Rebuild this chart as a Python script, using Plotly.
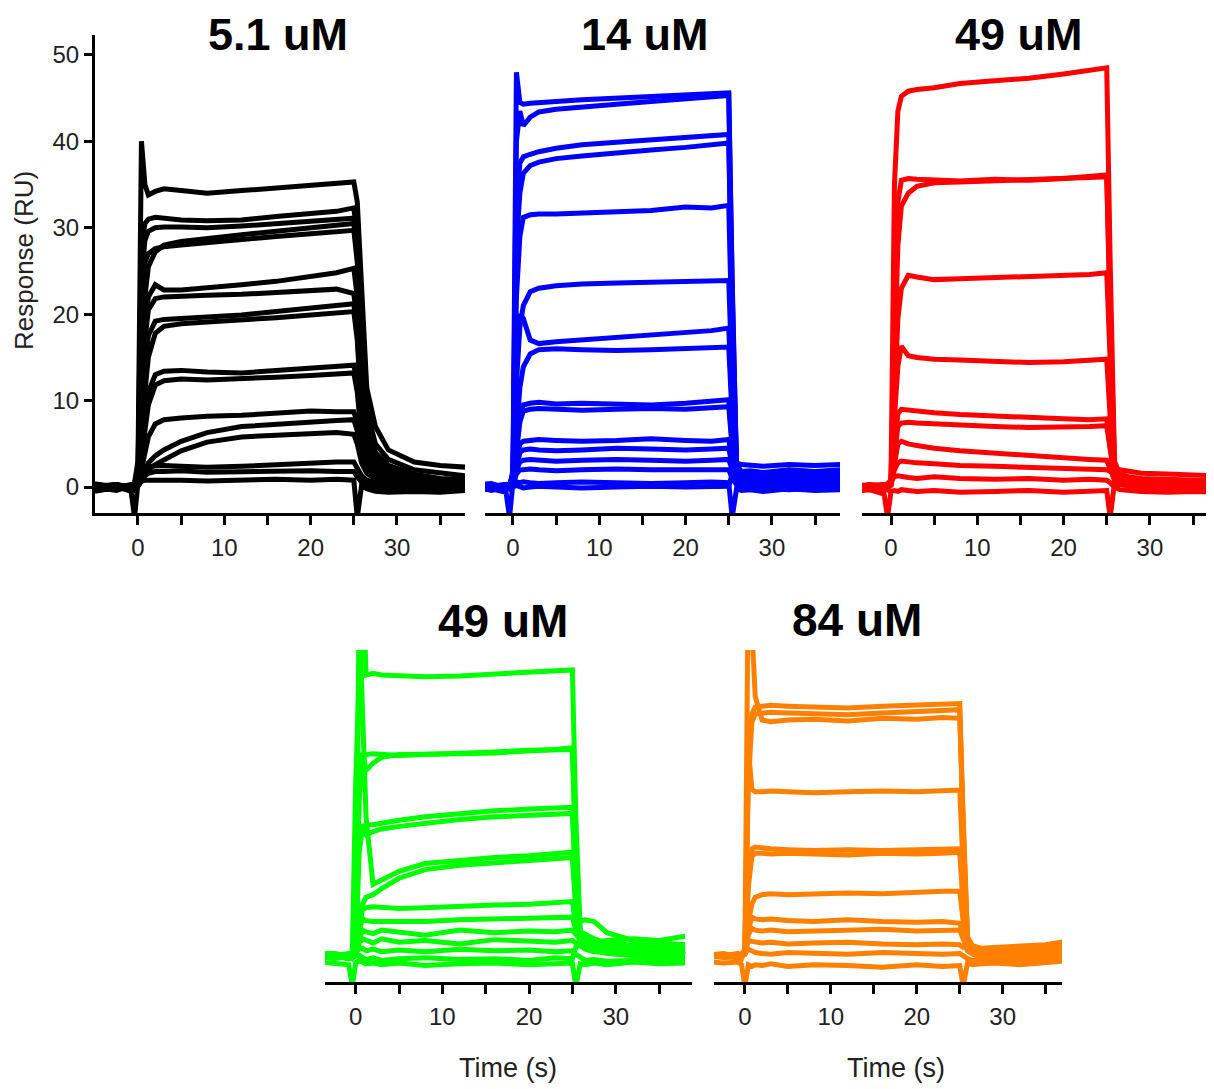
import plotly.graph_objects as go

# ---------------- data ----------------
# common time grid (s) for every sensorgram trace
TIME = [-5, -2.5, -0.8, -0.4, 0, 0.4, 0.8, 1.2, 2, 3, 5, 8, 12, 16, 20, 23, 25,
        25.4, 25.9, 26.5, 27.5, 29, 32, 35, 38]

# 5.1 uM (black) responses, RU
BLACK_CURVES = [
    [0.2, -0.3, 0.1, 0.5, 3, 40, 35, 33.8, 34.2, 34.5, 34.3, 34.0, 34.3, 34.6, 34.9, 35.2, 35.3, 33, 22, 11.5, 7, 4.3, 2.9, 2.5, 2.3],
    [-0.3, 0.2, -0.2, 0.3, 2, 28, 30.5, 31.0, 31.2, 31.1, 30.9, 30.8, 30.9, 31.3, 31.6, 31.9, 32.3, 29, 18, 9, 5, 3.2, 2.0, 1.6, 1.3],
    [0.4, -0.1, 0.3, 0.0, 1.5, 24, 28.5, 29.6, 30.0, 30.1, 30.1, 30.0, 30.2, 30.5, 30.8, 31.0, 31.1, 28, 16, 8, 4, 2.5, 1.5, 1.0, 0.9],
    [-0.5, 0.0, -0.4, -0.2, 1.2, 20, 26, 27.0, 27.6, 27.8, 28.0, 28.3, 28.7, 29.0, 29.3, 29.5, 29.7, 26, 14, 7, 3.5, 2.0, 1.2, 0.8, 0.6],
    [0.1, 0.3, 0.0, 0.2, 1.0, 15, 22, 25.5, 27.2, 28.0, 28.4, 28.8, 29.2, 29.6, 30.0, 30.3, 30.5, 27, 14, 7, 3.5, 2.2, 1.3, 0.9, 0.5],
    [0.0, -0.4, 0.2, 0.4, 1.0, 12, 19, 22, 23.4, 22.8, 22.8, 23.0, 23.4, 23.8, 24.3, 24.8, 25.3, 22, 12, 6, 3, 2.0, 1.2, 0.8, 0.7],
    [0.3, 0.1, -0.3, -0.1, 0.8, 10, 17, 20.5, 21.8, 22.0, 22.1, 22.2, 22.3, 22.5, 22.8, 22.9, 22.4, 19, 10, 5, 2.6, 1.6, 1.0, 0.5, 0.3],
    [-0.2, 0.2, 0.1, 0.3, 0.7, 8, 14, 17.5, 19.2, 19.4, 19.5, 19.7, 19.9, 20.3, 20.7, 20.9, 21.2, 18, 9, 4.5, 2.4, 1.5, 0.9, 0.6, 0.4],
    [0.2, -0.2, 0.0, -0.3, 0.5, 6, 11, 15, 17.8, 18.6, 18.9, 19.1, 19.3, 19.6, 19.9, 20.1, 20.3, 17, 8.5, 4.2, 2.1, 1.2, 0.7, 0.2, 0.0],
    [-0.1, 0.3, -0.2, 0.1, 0.5, 4, 8, 11, 13.0, 13.4, 13.5, 13.3, 13.2, 13.5, 13.8, 14.0, 14.1, 12, 6, 3.2, 1.8, 1.0, 0.5, 0.3, 0.1],
    [0.3, 0.0, 0.2, 0.0, 0.4, 3, 6.5, 9.5, 11.8, 12.3, 12.5, 12.4, 12.5, 12.7, 12.9, 13.0, 13.2, 11, 5.5, 3, 1.6, 0.8, 0.4, 0.1, -0.1],
    [-0.4, -0.1, 0.0, 0.2, 0.3, 2, 4, 5.8, 7.3, 7.8, 8.0, 8.2, 8.3, 8.6, 8.8, 8.7, 8.7, 7.5, 4, 2.2, 1.2, 0.6, 0.2, -0.1, -0.2],
    [0.0, 0.3, -0.1, -0.2, 0.2, 1, 2, 2.8, 3.6, 4.3, 5.3, 6.3, 7.0, 7.3, 7.5, 7.7, 7.8, 6.5, 3.5, 2, 1.1, 0.5, 0.2, 0.0, -0.2],
    [0.2, -0.3, 0.1, 0.0, 0.1, 0.7, 1.4, 2.0, 2.6, 3.1, 4.2, 5.2, 5.8, 6.0, 6.2, 6.3, 6.1, 5, 2.8, 1.6, 0.9, 0.4, 0.1, -0.1, -0.3],
    [-0.3, 0.0, -0.2, 0.1, 0.2, 1.2, 2.0, 2.4, 2.5, 2.5, 2.4, 2.3, 2.4, 2.6, 2.8, 2.9, 2.9, 2.2, 1.3, 0.8, 0.5, 0.3, 0.0, -0.2, 0.0],
    [0.1, 0.2, 0.0, -0.3, 0.1, 0.8, 1.3, 1.6, 1.8, 1.8, 1.9, 1.7, 1.8, 1.8, 1.9, 1.8, 1.8, 1.2, 0.6, 0.3, 0.0, -0.2, -0.3, -0.4, -0.2],
    [-0.2, 0.1, -0.5, -3.5, 0.5, 0.7, 0.8, 0.8, 0.8, 0.9, 0.8, 0.7, 0.8, 0.9, 0.8, 0.9, 0.8, -3.5, 0.2, -0.2, -0.5, -0.6, -0.5, -0.6, -0.4],
]

# 14 uM (blue) responses, RU
BLUE_CURVES = [
    [0.3, 0.0, 0.2, -0.2, 2, 48, 44.5, 44.3, 44.4, 44.5, 44.6, 44.8, 45.0, 45.2, 45.3, 45.5, 45.6, 24, 2.5, 1.8, 1.5, 1.6, 1.4, 1.7, 1.8],
    [-0.2, 0.3, -0.1, 0.2, 1.5, 40, 43.5, 41.8, 42.8, 43.4, 43.7, 44.0, 44.3, 44.6, 44.9, 45.1, 45.3, 23, 2.2, 1.5, 1.2, 1.3, 1.1, 1.4, 1.2],
    [0.5, 0.1, 0.3, 0.0, 1.5, 33, 37.5, 38.2, 38.5, 38.8, 39.2, 39.6, 39.9, 40.2, 40.4, 40.6, 40.8, 20, 2.6, 1.7, 1.4, 1.5, 1.3, 1.2, 1.5],
    [-0.4, -0.1, 0.0, 0.3, 1.2, 28, 34, 36.3, 37.2, 37.6, 38.0, 38.3, 38.7, 39.0, 39.3, 39.6, 39.8, 19, 2.0, 1.4, 1.0, 1.1, 0.9, 1.0, 1.1],
    [0.2, 0.4, -0.2, 0.1, 1.0, 22, 29, 31.2, 31.5, 31.6, 31.6, 31.7, 31.9, 32.0, 32.4, 32.3, 32.6, 16, 1.8, 1.3, 1.3, 1.2, 1.5, 1.3, 1.0],
    [0.0, -0.3, 0.2, -0.1, 1.0, 12, 18.5, 21.0, 22.6, 23.0, 23.3, 23.5, 23.6, 23.7, 23.8, 23.8, 23.9, 12, 1.5, 1.0, 1.1, 1.0, 1.2, 0.9, 1.3],
    [0.3, 0.0, 0.0, 0.2, 1.5, 16, 20, 19.5, 17.0, 16.6, 16.8, 17.0, 17.3, 17.6, 17.8, 18.1, 18.4, 9, 1.6, 1.2, 0.9, 1.0, 0.8, 1.1, 0.9],
    [-0.3, 0.2, 0.1, -0.2, 0.8, 7, 11.5, 13.9, 15.4, 15.9, 16.0, 15.9, 15.8, 15.9, 16.0, 16.1, 16.2, 8, 1.3, 0.9, 0.8, 0.7, 0.9, 0.7, 0.8],
    [0.1, -0.2, 0.3, 0.0, 0.6, 5, 8.5, 9.5, 9.7, 9.8, 9.6, 9.7, 9.6, 9.5, 9.7, 9.9, 10.1, 5, 1.2, 0.8, 0.6, 0.8, 0.6, 0.8, 0.5],
    [-0.2, 0.1, -0.3, 0.1, 0.5, 4, 7.5, 8.8, 9.0, 9.1, 9.0, 8.9, 9.0, 9.1, 9.0, 9.2, 9.3, 4.5, 1.0, 0.5, 0.4, 0.5, 0.3, 0.6, 0.4],
    [0.4, 0.0, 0.1, 0.3, 0.4, 3, 5.0, 5.3, 5.4, 5.5, 5.4, 5.3, 5.4, 5.6, 5.4, 5.3, 5.5, 3, 0.8, 0.4, 0.3, 0.2, 0.4, 0.2, 0.5],
    [-0.1, 0.3, -0.1, -0.2, 0.3, 2.5, 4.0, 4.3, 4.4, 4.3, 4.2, 4.3, 4.5, 4.4, 4.3, 4.4, 4.5, 2.5, 0.6, 0.2, 0.2, 0.0, 0.2, 0.0, 0.3],
    [0.2, -0.4, 0.0, 0.2, 0.2, 2.0, 2.9, 3.1, 3.2, 3.1, 3.0, 3.1, 3.2, 3.1, 3.0, 3.1, 3.2, 2.0, 2.8, 2.6, 2.5, 2.4, 2.6, 2.5, 2.6],
    [-0.3, 0.0, 0.3, 0.0, 0.2, 1.5, 2.0, 2.0, 2.1, 2.0, 1.9, 2.0, 2.1, 2.0, 2.0, 2.1, 2.0, 1.0, 0.3, 0.0, -0.2, -0.1, -0.3, -0.1, 0.0],
    [0.1, -0.2, -0.6, -3.5, 0.5, 0.6, 0.5, 0.6, 0.5, 0.4, 0.5, 0.6, 0.5, 0.4, 0.5, 0.6, 0.5, -3.5, -0.2, -0.4, -0.3, -0.5, -0.2, -0.4, -0.3],
    [0.0, 0.3, 0.1, 0.0, 0.0, 0.2, 0.0, -0.1, 0.0, 0.1, 0.0, -0.1, 0.0, 0.1, 0.0, 0.0, 0.1, 1.5, 2.0, 1.8, 1.9, 1.7, 2.0, 1.8, 2.0],
]

# 49 uM (red) responses, RU
RED_CURVES = [
    [0.3, -0.2, 0.0, -0.3, 1.0, 35, 43.5, 45.2, 45.8, 46.0, 46.2, 46.7, 47.0, 47.3, 47.8, 48.3, 48.5, 26, 3.0, 1.5, 1.2, 1.0, 0.9, 0.8, 0.7],
    [-0.3, 0.2, 0.3, 0.0, 0.8, 20, 33, 35.5, 35.7, 35.6, 35.5, 35.4, 35.6, 35.5, 35.7, 35.9, 36.1, 19, 2.4, 1.3, 1.0, 0.8, 0.6, 0.5, 0.6],
    [0.2, 0.0, -0.2, 0.2, 0.6, 15, 28, 32.5, 34.0, 34.8, 35.2, 35.3, 35.4, 35.5, 35.6, 35.8, 35.9, 18, 2.0, 1.0, 0.8, 0.6, 0.4, 0.5, 0.3],
    [-0.2, 0.3, 0.1, -0.1, 0.5, 10, 19.5, 23.0, 24.5, 24.3, 24.0, 24.1, 24.2, 24.3, 24.4, 24.6, 24.8, 13, 1.8, 0.9, 0.6, 0.5, 0.3, 0.2, 0.4],
    [0.4, 0.0, 0.2, 0.3, 0.5, 8, 14, 16.3, 15.2, 15.0, 14.8, 14.7, 14.5, 14.4, 14.5, 14.6, 14.8, 8, 1.5, 0.8, 0.5, 0.3, 0.2, 0.0, 0.1],
    [0.0, -0.3, -0.1, 0.2, 0.4, 5, 8.5, 9.0, 8.9, 8.8, 8.6, 8.4, 8.2, 8.0, 7.9, 7.8, 7.9, 4.5, 1.3, 0.7, 0.4, 0.2, 0.0, -0.1, 0.0],
    [-0.4, 0.2, 0.0, 0.0, 0.3, 4, 7.0, 7.4, 7.5, 7.4, 7.3, 7.2, 7.0, 6.9, 6.9, 7.0, 7.1, 4, 1.0, 0.5, 0.2, 0.0, -0.2, -0.3, -0.2],
    [0.2, -0.1, 0.3, 0.1, 0.3, 3, 5.0, 5.3, 5.0, 4.8, 4.5, 4.2, 3.9, 3.6, 3.4, 3.2, 3.1, 2, 0.8, 0.3, 0.1, -0.1, -0.3, -0.4, -0.3],
    [-0.1, 0.3, -0.3, 0.0, 0.2, 2, 2.8, 3.0, 2.9, 2.8, 2.7, 2.5, 2.4, 2.3, 2.2, 2.1, 2.0, 1.8, 2.2, 2.0, 1.8, 1.6, 1.5, 1.4, 1.3],
    [0.5, 0.1, 0.0, 0.4, 0.6, 1.2, 1.3, 1.2, 1.1, 1.0, 1.2, 1.0, 0.9, 1.0, 0.8, 0.9, 0.8, 0.5, 0.0, -0.3, -0.4, -0.5, -0.6, -0.5, -0.6],
    [-0.6, -0.3, -0.8, -3.5, -0.5, -0.4, -0.5, -0.3, -0.4, -0.5, -0.4, -0.6, -0.5, -0.4, -0.6, -0.5, -0.4, -3.5, 0.5, 0.3, 0.2, 0.1, 0.0, -0.1, 0.0],
]

# 49 uM (green) responses, RU
GREEN_CURVES = [
    [0.2, -0.2, 0.0, -0.4, 20, 45, 45, 32.5, 32.7, 32.5, 32.4, 32.3, 32.4, 32.6, 32.8, 33.0, 33.1, 16, 3.0, 2.0, 1.3, 1.0, 0.8, 0.6, 0.9],
    [-0.3, 0.1, 0.2, 0.0, 0.8, 40, 28, 16, 8.3, 8.8, 9.8, 10.7, 11.1, 11.4, 11.6, 11.8, 12.0, 6, 2.5, 1.6, 1.0, 0.7, 0.5, 0.4, 0.6],
    [0.1, 0.3, -0.1, 0.2, 0.8, 20, 23.5, 21.5, 22.3, 23.0, 23.3, 23.4, 23.4, 23.5, 23.7, 23.9, 24.1, 12, 2.5, 1.5, 1.1, 0.9, 0.7, 0.9, 0.8],
    [-0.2, 0.0, 0.3, -0.2, 0.6, 18, 23.0, 23.3, 23.4, 23.3, 23.2, 23.3, 23.4, 23.6, 23.8, 23.9, 23.9, 12, 2.0, 1.0, 0.7, 0.5, 0.3, 0.2, 0.5],
    [0.3, -0.3, 0.0, 0.1, 0.6, 14.8, 14.5, 14.0, 14.4, 14.7, 15.0, 15.4, 15.8, 16.1, 16.3, 16.4, 16.5, 8, 2.8, 2.0, 1.4, 1.0, 0.6, 0.4, 0.3],
    [0.0, 0.2, -0.2, 0.3, 0.5, 12, 15.0, 15.2, 15.2, 15.4, 15.7, 16.1, 16.5, 16.8, 17.0, 17.1, 17.2, 8.5, 4.0, 4.2, 4.0, 2.7, 1.8, 1.5, 1.3],
    [-0.4, 0.0, 0.1, -0.2, 0.4, 4, 6.0, 6.8, 7.1, 7.8, 9.0, 10.0, 10.5, 10.8, 11.0, 11.2, 11.4, 5.5, 2.2, 1.4, 0.9, 0.6, 0.3, 0.5, 0.2],
    [0.2, 0.3, 0.0, 0.1, 0.4, 3.5, 5.4, 5.6, 5.7, 5.6, 5.5, 5.6, 5.8, 5.9, 6.0, 6.2, 6.3, 3.5, 2.0, 1.2, 0.8, 0.5, 0.2, 0.0, 0.1],
    [-0.1, -0.2, 0.2, 0.0, 0.3, 3, 4.3, 4.1, 4.0, 4.0, 4.1, 4.0, 4.2, 4.3, 4.4, 4.4, 4.5, 3, 1.7, 1.0, 0.6, 0.3, 0.0, -0.2, -0.1],
    [0.3, 0.0, -0.3, 0.2, 0.2, 2, 3.0, 2.8, 2.6, 3.0, 2.8, 2.4, 3.0, 2.7, 2.9, 2.8, 3.0, 2.5, 2.8, 2.5, 2.0, 1.5, 1.2, 1.0, 1.3],
    [-0.2, 0.2, 0.0, -0.1, 0.2, 1.5, 2.0, 1.8, 1.5, 2.0, 1.6, 1.8, 1.4, 1.9, 1.7, 1.6, 1.8, 1.5, 1.2, 0.8, 0.5, 0.4, 0.3, 0.5, 0.2],
    [0.4, 0.1, 0.2, 0.3, 0.4, 0.8, 0.9, 0.6, 0.8, 0.5, 0.7, 0.5, 0.8, 0.6, 0.7, 0.5, 0.6, 0.2, -0.2, -0.5, -0.4, -0.6, -0.5, -0.6, -0.4],
    [-0.6, -0.8, -1.0, -3.5, -0.8, -0.5, -0.7, -0.9, -0.8, -1.0, -0.8, -1.1, -0.9, -0.8, -1.0, -0.9, -0.8, -3.5, -0.9, -1.0, -0.8, -1.0, -0.7, -0.9, -0.8],
    [-0.1, 0.0, -0.3, -0.1, 0.0, 0.1, -0.2, -0.4, -0.2, -0.5, -0.3, -0.2, -0.4, -0.3, -0.5, -0.2, -0.3, 1.0, 1.5, 1.2, 1.6, 1.8, 2.0, 1.8, 2.3],
]

# 84 uM (orange) responses, RU
ORANGE_CURVES = [
    [0.2, -0.1, 0.0, -0.3, 1.0, 45, 38, 30, 27.3, 27.1, 27.3, 27.4, 27.2, 27.5, 27.4, 27.6, 27.5, 14, 2.0, 1.0, 0.7, 0.6, 0.5, 0.6, 1.5],
    [-0.2, 0.2, 0.1, 0.1, 0.8, 22, 28, 28.8, 28.9, 29.0, 28.9, 28.8, 28.7, 28.9, 29.0, 29.1, 29.2, 15, 2.2, 1.2, 0.9, 0.7, 0.8, 0.9, 1.2],
    [0.1, 0.0, -0.2, 0.2, 0.6, 20, 27, 28.0, 28.1, 28.2, 28.1, 28.0, 27.9, 28.1, 28.3, 28.4, 28.5, 14.5, 1.8, 0.9, 0.6, 0.5, 0.4, 0.6, 0.9],
    [-0.3, 0.1, 0.2, -0.1, 0.6, 24, 19.3, 19.0, 19.0, 19.1, 19.0, 18.9, 19.0, 19.1, 19.0, 19.1, 19.2, 10, 1.6, 0.8, 0.5, 0.4, 0.3, 0.5, 0.8],
    [0.3, -0.2, 0.0, 0.2, 0.5, 9, 12.4, 12.6, 12.5, 12.4, 12.3, 12.2, 12.3, 12.2, 12.3, 12.4, 12.4, 6.5, 1.4, 0.6, 0.4, 0.2, 0.3, 0.4, 0.6],
    [0.0, 0.2, -0.1, 0.0, 0.4, 8, 11.5, 11.9, 11.9, 11.8, 11.9, 11.8, 11.7, 11.9, 11.8, 11.9, 12.0, 6, 1.2, 0.5, 0.2, 0.1, 0.0, 0.2, 0.4],
    [-0.2, 0.0, 0.3, 0.1, 0.3, 4, 6.0, 6.8, 7.1, 7.2, 7.1, 7.2, 7.3, 7.2, 7.4, 7.5, 7.5, 4, 1.0, 0.4, 0.1, 0.0, -0.1, 0.1, 0.3],
    [0.2, -0.1, 0.0, 0.2, 0.3, 3, 4.5, 4.3, 4.2, 4.3, 4.1, 4.0, 4.2, 4.0, 3.9, 4.0, 3.8, 2.5, 0.8, 0.3, 0.0, -0.1, 0.0, 0.1, 0.2],
    [-0.1, 0.2, 0.1, -0.1, 0.3, 2.5, 3.2, 3.0, 2.9, 3.0, 2.8, 2.9, 3.0, 3.1, 2.9, 3.0, 3.0, 2, 0.6, 0.2, -0.1, -0.2, -0.1, 0.0, 0.3],
    [0.3, 0.0, 0.2, 0.1, 0.2, 1.8, 1.7, 1.6, 1.5, 1.6, 1.4, 1.5, 1.6, 1.4, 1.3, 1.4, 1.3, 1.0, 1.2, 1.0, 0.9, 1.0, 1.1, 1.3, 1.8],
    [0.0, 0.3, -0.1, 0.2, 0.3, 0.8, 0.6, 0.4, 0.3, 0.2, 0.4, 0.3, 0.2, 0.4, 0.3, 0.2, 0.3, 0.0, -0.3, -0.5, -0.4, -0.6, -0.4, -0.5, -0.2],
    [-0.6, -0.8, -0.7, -1.0, -3.5, -1.0, -1.2, -1.0, -1.1, -0.9, -1.2, -1.0, -1.1, -1.3, -1.0, -1.2, -1.1, -3.5, -0.8, -1.0, -0.9, -0.8, -1.0, -0.7, -0.5],
]

PANEL_TITLES = ["5.1 uM", "14 uM", "49 uM", "49 uM", "84 uM"]
PANEL_COLORS = ["#000000", "#0000FF", "#FF0000", "#00FF00", "#FF8000"]
X_TICK_VALUES = [-5, 0, 5, 10, 15, 20, 25, 30, 35]
X_TICK_LABELS = ["", "0", "", "10", "", "20", "", "30", ""]
Y_TICK_VALUES = [0, 10, 20, 30, 40, 50]
Y_TITLE = "Response (RU)"
X_TITLE = "Time (s)"

# ---------------- layout geometry ----------------
# the page body has an 8 px margin, so the figure is 8 px smaller in each
# direction and all screen positions are offset by 8 px
OFF = 8
W, H = 1214 - OFF, 1089 - OFF
FONT = "Liberation Sans, Arial, Helvetica, sans-serif"


def fx(px):
    return (px - OFF) / W


def fy(py):
    return 1 - (py - OFF) / H


panels = [
    # x-domain px, x-range, y-domain px (top, bottom), y-range
    dict(curves=BLACK_CURVES, xd=(95, 465), xr=(-4.98, 37.88), yd=(35, 513), yr=(-3.0, 52.3)),
    dict(curves=BLUE_CURVES, xd=(485, 840), xr=(-3.24, 37.89), yd=(35, 513), yr=(-3.0, 52.3)),
    dict(curves=RED_CURVES, xd=(862, 1214), xr=(-3.36, 37.43), yd=(35, 513), yr=(-3.0, 52.3)),
    dict(curves=GREEN_CURVES, xd=(325, 692), xr=(-3.54, 38.8), yd=(650, 982), yr=(-3.0, 35.4)),
    dict(curves=ORANGE_CURVES, xd=(714, 1062), xr=(-3.6, 36.9), yd=(650, 982), yr=(-3.0, 35.4)),
]

fig = go.Figure()
layout = dict(
    width=W, height=H, autosize=False,
    margin=dict(l=0, r=0, t=0, b=0, pad=0),
    paper_bgcolor="white", plot_bgcolor="white",
    showlegend=False,
    font=dict(family=FONT, color="#222222"),
)

for i, p in enumerate(panels):
    n = i + 1
    xa = "x" if n == 1 else f"x{n}"
    ya = "y" if n == 1 else f"y{n}"
    for vals in p["curves"]:
        fig.add_trace(go.Scatter(
            x=TIME, y=vals, xaxis=xa, yaxis=ya, mode="lines",
            line=dict(color=PANEL_COLORS[i], width=5),
            hoverinfo="skip",
        ))
    xkey = "xaxis" if n == 1 else f"xaxis{n}"
    ykey = "yaxis" if n == 1 else f"yaxis{n}"
    layout[xkey] = dict(
        domain=[max(0.0, fx(p["xd"][0])), min(1.0, fx(p["xd"][1]))], range=list(p["xr"]),
        anchor=ya, showline=True, linecolor="black", linewidth=3,
        ticks="outside", ticklen=9, tickwidth=2.5, tickcolor="black",
        tickvals=X_TICK_VALUES, ticktext=X_TICK_LABELS,
        tickfont=dict(family=FONT, size=24, color="#222222"),
        ticklabelstandoff=2,
        showgrid=False, zeroline=False, fixedrange=True,
    )
    ydict = dict(
        domain=[fy(p["yd"][1]), fy(p["yd"][0])], range=list(p["yr"]),
        anchor=xa, showgrid=False, zeroline=False, fixedrange=True,
    )
    if n == 1:
        ydict.update(
            showline=True, linecolor="black", linewidth=3,
            ticks="outside", ticklen=8, tickwidth=2.5, tickcolor="black",
            tickvals=Y_TICK_VALUES,
            tickfont=dict(family=FONT, size=24, color="#222222"),
        )
    else:
        ydict.update(visible=False)
    layout[ykey] = ydict

annotations = []
# top-row titles: anchored to the top edge of the figure so that they fit
for tx, t in zip((278, 645, 1019), PANEL_TITLES[:3]):
    annotations.append(dict(
        x=fx(tx), y=1.0, xref="paper", yref="paper", text=f"<b>{t}</b>",
        showarrow=False, xanchor="center", yanchor="top", borderpad=0,
        font=dict(family=FONT, size=45, color="black"),
    ))
for (tx, ty), t in zip(((503, 621), (857, 620)), PANEL_TITLES[3:]):
    annotations.append(dict(
        x=fx(tx), y=fy(ty), xref="paper", yref="paper", text=f"<b>{t}</b>",
        showarrow=False, xanchor="center", yanchor="middle",
        font=dict(family=FONT, size=46, color="black"),
    ))
annotations.append(dict(
    x=0.0, y=fy(261), xref="paper", yref="paper", text=Y_TITLE, textangle=-90,
    showarrow=False, xanchor="left", yanchor="middle", borderpad=0,
    font=dict(family=FONT, size=26, color="#222222"),
))
for cx in (508, 896):
    annotations.append(dict(
        x=fx(cx), y=fy(1068), xref="paper", yref="paper", text=X_TITLE,
        showarrow=False, xanchor="center", yanchor="middle",
        font=dict(family=FONT, size=27, color="#222222"),
    ))
layout["annotations"] = annotations

fig.update_layout(**layout)
fig.write_html("out.html", config={"displayModeBar": False})
